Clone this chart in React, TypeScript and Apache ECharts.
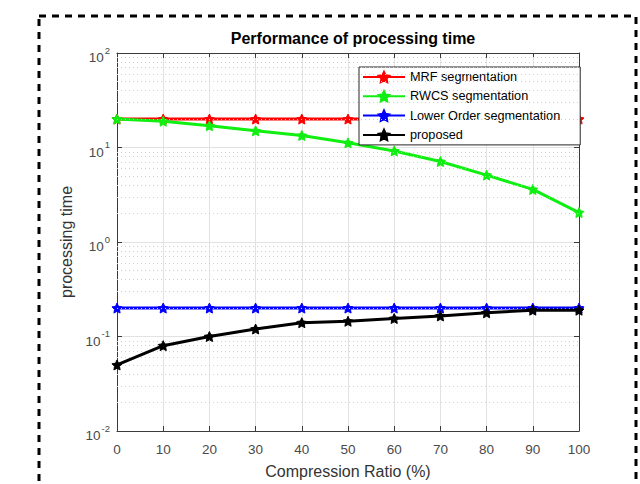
import React, { useEffect, useRef } from "react";
import * as echarts from "echarts";

const ratios = [0, 10, 20, 30, 40, 50, 60, 70, 80, 90, 100];
const mrf = [20, 20, 20, 20, 20, 20, 20, 20, 20, 20, 20];
const rwcs = [20, 19, 17, 15, 13.4, 11.2, 9.2, 7.1, 5.1, 3.6, 2.05];
const lowerOrder = [0.2, 0.2, 0.2, 0.2, 0.2, 0.2, 0.2, 0.2, 0.2, 0.2, 0.2];
const proposed = [0.05, 0.08, 0.1, 0.12, 0.14, 0.145, 0.155, 0.165, 0.178, 0.19, 0.19];
const seriesNames = ["MRF segmentation", "RWCS segmentation", "Lower Order segmentation", "proposed"];
const seriesColors = ["#ff0000", "#11ee11", "#0000ff", "#000000"];
const minorGridValues = [
  0.02, 0.03, 0.04, 0.05, 0.06, 0.07, 0.08, 0.09,
  0.2, 0.3, 0.4, 0.5, 0.6, 0.7, 0.8, 0.9,
  2, 3, 4, 5, 6, 7, 8, 9,
  20, 30, 40, 50, 60, 70, 80, 90,
];

const STAR =
  "path://M50,0 L64.7,29.8 L97.6,34.5 L73.8,57.7 L79.4,90.5 L50,75 L20.6,90.5 L26.2,57.7 L2.4,34.5 L35.3,29.8 Z";
const FONT = "'Liberation Sans', Arial, Helvetica, sans-serif";
const AXIS_COLOR = "#3a3a3a";
const LABEL_COLOR = "#4a4a4a";

export default function App() {
  const ref = useRef<HTMLDivElement>(null);
  useEffect(() => {
    if (!ref.current) return;
    const chart = echarts.init(ref.current, undefined, { renderer: "svg" });
    const allValues = [mrf, rwcs, lowerOrder, proposed];
    const supLabel = (v: number) => {
      const e = Math.round(Math.log10(v));
      return `{b|10}{s|${e}}`;
    };
    chart.setOption({
      animation: false,
      backgroundColor: "#fff",
      textStyle: { fontFamily: FONT },
      title: {
        text: "Performance of processing time",
        left: 348,
        textAlign: "center",
        top: 25,
        textStyle: { fontSize: 16, fontWeight: "bold", color: "#000", fontFamily: FONT },
      },
      legend: {
        data: seriesNames,
        orient: "vertical",
        left: 359,
        top: 67,
        padding: [3.5, 20, 3.5, 3],
        itemGap: 6.3,
        itemWidth: 42,
        itemHeight: 13,
        backgroundColor: "#fff",
        borderColor: "#262626",
        borderWidth: 1,
        borderRadius: 0,
        textStyle: { fontSize: 12.7, color: "#000", fontFamily: FONT },
      },
      graphic: [
        {
          type: "rect",
          shape: { x: 39, y: 16, width: 597, height: 500 },
          style: { fill: "none", stroke: "#000", lineWidth: 3, lineDash: [7, 6] },
          silent: true,
          z: -10,
        },
      ],
      grid: { left: 117, right: 61, top: 53, bottom: 47, containLabel: false },
      xAxis: [
        {
          type: "value",
          min: 0,
          max: 100,
          interval: 10,
          name: "Compression Ratio (%)",
          nameLocation: "middle",
          nameGap: 32,
          nameTextStyle: { fontSize: 16, color: "#333", fontFamily: FONT },
          axisLine: { show: true, onZero: false, lineStyle: { color: AXIS_COLOR, width: 1 } },
          axisTick: { show: true, inside: true, length: 5, lineStyle: { color: AXIS_COLOR } },
          axisLabel: { fontSize: 13.5, color: LABEL_COLOR, margin: 11, fontFamily: FONT },
          splitLine: { show: true, lineStyle: { color: "#e2e2e2", width: 1 } },
        },
        {
          type: "value",
          position: "top",
          min: 0,
          max: 100,
          interval: 10,
          axisLine: { show: true, onZero: false, lineStyle: { color: AXIS_COLOR, width: 1 } },
          axisTick: { show: true, inside: true, length: 5, lineStyle: { color: AXIS_COLOR } },
          axisLabel: { show: false },
          splitLine: { show: false },
        },
      ],
      yAxis: [
        {
          type: "log",
          logBase: 10,
          min: 0.01,
          max: 100,
          name: "processing time",
          nameLocation: "middle",
          nameGap: 36.5,
          nameTextStyle: { fontSize: 16, color: "#333", fontFamily: FONT },
          axisLine: { show: true, onZero: false, lineStyle: { color: AXIS_COLOR, width: 1 } },
          axisTick: { show: true, inside: true, length: 5, lineStyle: { color: AXIS_COLOR } },
          axisLabel: {
            margin: 7,
            formatter: supLabel,
            rich: {
              b: { fontSize: 13.5, lineHeight: 14, color: LABEL_COLOR, fontFamily: FONT, padding: [9, 0, 0, 0] },
              s: { fontSize: 9.5, lineHeight: 10, color: LABEL_COLOR, fontFamily: FONT, padding: [0, 0, 6, 1] },
            },
          },
          splitLine: { show: true, lineStyle: { color: "#e2e2e2", width: 1 } },
        },
        {
          type: "log",
          logBase: 10,
          min: 0.01,
          max: 100,
          position: "right",
          axisLine: { show: true, onZero: false, lineStyle: { color: AXIS_COLOR, width: 1 } },
          axisTick: { show: true, inside: true, length: 5, lineStyle: { color: AXIS_COLOR } },
          axisLabel: { show: false },
          splitLine: { show: false },
        },
      ],
      series: [
        {
          name: "minor-grid",
          type: "line",
          data: [],
          silent: true,
          z: 0,
          markLine: {
            silent: true,
            symbol: ["none", "none"],
            label: { show: false },
            lineStyle: { color: "#cfcfcf", type: [1, 3], width: 1 },
            data: minorGridValues.map((v) => ({ yAxis: v })),
          },
        },
        ...seriesNames.map((name, i) => ({
          name,
          type: "line",
          data: ratios.map((r, j) => [r, allValues[i][j]]),
          symbol: STAR,
          symbolSize: 10,
          showSymbol: true,
          z: 2 + i,
          lineStyle: { color: seriesColors[i], width: 3 },
          itemStyle: { color: seriesColors[i], borderColor: seriesColors[i], borderWidth: 1 },
        })),
      ],
    });
    return () => chart.dispose();
  }, []);
  return <div ref={ref} style={{ width: 640, height: 484, position: "absolute", left: 0, top: 0 }} />;
}
